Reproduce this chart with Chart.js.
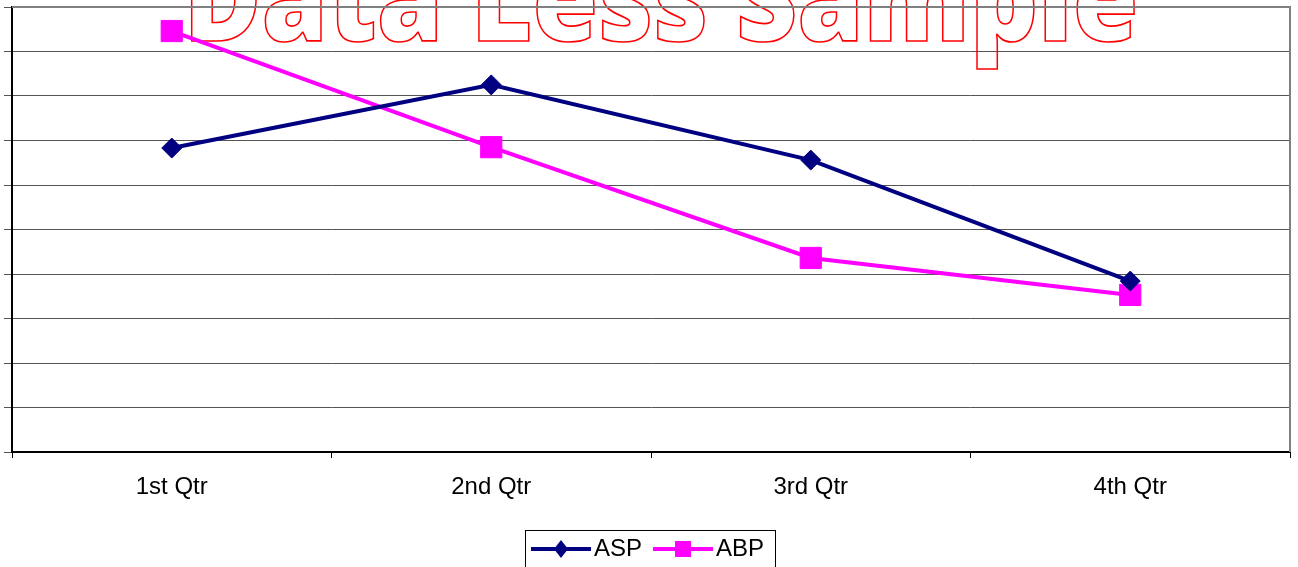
<!DOCTYPE html>
<html>
<head>
<meta charset="utf-8">
<script src="https://cdn.jsdelivr.net/npm/chart.js@4"></script>
<style>
  html, body { margin: 0; padding: 0; background: #fff; }
  #wrap { width: 1298px; height: 567px; }
</style>
</head>
<body>
<div id="wrap"><canvas id="lineChart"></canvas></div>
<script>
const quarters = ['1st Qtr', '2nd Qtr', '3rd Qtr', '4th Qtr'];
const aspValues = [6.83, 8.25, 6.56, 3.84];
const abpValues = [9.46, 6.85, 4.36, 3.53];
const watermarkText = 'Data Less Sample';

// legend swatch: line with the marker in the middle (14px blank on the left)
function makeSwatch(color, shape) {
    const c = document.createElement('canvas');
    c.width = 74;
    c.height = 22;
    const g = c.getContext('2d');
    g.translate(14, 0);
    g.strokeStyle = color;
    g.lineWidth = 4;
    g.beginPath();
    g.moveTo(0, 11);
    g.lineTo(60, 11);
    g.stroke();
    g.fillStyle = color;
    g.beginPath();
    if (shape === 'diamond') {
        g.moveTo(30, 2); g.lineTo(37, 11); g.lineTo(30, 20); g.lineTo(23, 11);
    } else {
        g.rect(22, 3, 16, 16);
    }
    g.closePath();
    g.fill();
    return c;
}

const watermark = {
    id: 'watermark',
    beforeDatasetsDraw(chart) {
        const ctx = chart.ctx;
        ctx.save();
        ctx.font = '800 100px "Open Sans"';
        const w = ctx.measureText(watermarkText).width;
        const size = 100 * 955 / w;
        ctx.font = '800 ' + size + 'px "Open Sans"';
        ctx.textAlign = 'center';
        ctx.textBaseline = 'alphabetic';
        ctx.strokeStyle = '#ff0000';
        ctx.lineWidth = 1.5;
        ctx.translate(661, 41);
        ctx.scale(1, 1.1);
        ctx.strokeText(watermarkText, 0, 0);
        ctx.restore();
    }
};

const frame = {
    id: 'frame',
    afterDatasetsDraw(chart) {
        const {ctx, chartArea} = chart;
        ctx.save();
        ctx.strokeStyle = '#808080';
        ctx.lineWidth = 2;
        ctx.beginPath();
        ctx.moveTo(chartArea.left, chartArea.top);
        ctx.lineTo(chartArea.right, chartArea.top);
        ctx.lineTo(chartArea.right, chartArea.bottom);
        ctx.stroke();
        ctx.restore();
    },
    afterDraw(chart) {
        const legend = chart.legend;
        const boxes = legend.legendHitBoxes;
        const first = boxes[0];
        const last = boxes[boxes.length - 1];
        const left = Math.round(first.left) - 1;
        const right = Math.round(last.left + last.width) + 11;
        const ctx = chart.ctx;
        ctx.save();
        ctx.strokeStyle = '#000';
        ctx.lineWidth = 1;
        ctx.strokeRect(left + 0.5, Math.round(legend.top) - 1 + 0.5, right - left, 60);
        ctx.restore();
    }
};

const ctx = document.getElementById('lineChart').getContext('2d');
new Chart(ctx, {
    type: 'line',
    data: {
        labels: quarters,
        datasets: [{
            label: 'ASP',
            data: aspValues,
            borderColor: '#000080',
            backgroundColor: '#000080',
            borderWidth: 4,
            pointStyle: 'rectRot',
            pointRadius: 10,
            pointBorderWidth: 1,
            tension: 0
        }, {
            label: 'ABP',
            data: abpValues,
            borderColor: '#ff00ff',
            backgroundColor: '#ff00ff',
            borderWidth: 4,
            pointStyle: 'rect',
            pointRadius: 15,
            pointBorderWidth: 1,
            tension: 0
        }]
    },
    options: {
        responsive: true,
        maintainAspectRatio: false,
        animation: false,
        layout: { autoPadding: false, padding: { top: 7, right: 8, left: 0, bottom: -4 } },
        scales: {
            x: {
                offset: true,
                afterFit: s => { s.height = 79; },
                grid: { offset: true, drawOnChartArea: false, drawTicks: true, tickLength: 6, color: '#000' },
                border: { color: '#000', width: 2 },
                ticks: { color: '#000', font: { family: 'Arial, "Liberation Sans"', size: 24 }, padding: 15, maxRotation: 0 }
            },
            y: {
                min: 0,
                max: 10,
                afterFit: s => { s.width = 12; },
                grid: { color: '#555', lineWidth: 1, drawTicks: true, tickLength: 8 },
                border: { color: '#000', width: 2 },
                ticks: { display: false, stepSize: 1 }
            }
        },
        plugins: {
            legend: {
                position: 'bottom',
                labels: {
                    usePointStyle: true,
                    pointStyleWidth: 56,
                    color: '#000',
                    padding: 6,
                    font: { family: 'Arial, "Liberation Sans"', size: 24 },
                    generateLabels: chart => chart.data.datasets.map((ds, i) => ({
                        text: ds.label,
                        datasetIndex: i,
                        pointStyle: makeSwatch(ds.borderColor, i === 0 ? 'diamond' : 'square'),
                        fillStyle: ds.borderColor,
                        strokeStyle: ds.borderColor,
                        lineWidth: 0,
                        fontColor: '#000'
                    }))
                }
            },
            tooltip: { enabled: false }
        }
    },
    plugins: [watermark, frame]
});
</script>
</body>
</html>
